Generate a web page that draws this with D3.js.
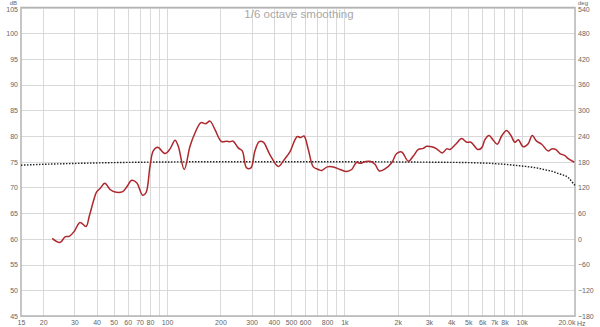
<!DOCTYPE html>
<html>
<head>
<meta charset="utf-8">
<script src="https://cdn.jsdelivr.net/npm/d3@7"></script>
<style>
body { margin: 0; background: #fff; }
svg { display: block; font-family: "Liberation Sans", Arial, sans-serif; }
</style>
</head>
<body>
<script>
// measured response, 1/6 octave smoothing
var freq = [22.5, 24.9, 26.6, 28.1, 30, 32.3, 34.9, 36.4, 38.7, 40,
    41.9, 44.6, 47.7, 50.9, 56.2, 59.2, 63.2, 67.4, 72.8, 76.1,
    80.1, 83.6, 88.5, 97.4, 103.9, 110.9, 115.7, 125, 134.7, 143.7,
    155.4, 165, 174.6, 186, 203, 217, 226, 236, 252, 265.6,
    281, 297, 313, 331, 349, 380, 424, 458, 493, 527,
    543, 567, 592, 626, 668, 713, 745, 801, 866, 945,
    1030, 1100, 1173, 1226, 1307, 1394, 1488, 1573, 1695, 1850,
    1973, 2105, 2294, 2448, 2613, 2787, 2910, 3108, 3317, 3565,
    3777, 3942, 4245, 4589, 4899, 5178, 5650, 5950, 6210, 6540,
    6918, 7287, 7711, 8223, 8700, 9165, 9570, 10215, 10890, 11475,
    12150, 12975, 14130, 14760, 15555, 16440, 17550, 18330, 19815];
var spl = [60.1, 59.3, 60.4, 60.5, 61.5, 63.2, 62.4, 64.4, 67.7, 69.1,
    69.8, 70.8, 69.6, 69.1, 69.2, 70.1, 71.4, 70.9, 68.5, 69.0,
    74.1, 77.1, 77.8, 76.6, 77.5, 79.2, 78.0, 73.5, 78.0, 80.6,
    82.6, 82.4, 82.9, 81.3, 78.9, 79.0, 78.9, 79.0, 77.7, 77.1,
    73.8, 73.8, 77.1, 78.9, 78.8, 76.4, 74.1, 75.4, 76.9, 79.3,
    79.9, 79.7, 80.0, 77.4, 74.0, 73.5, 73.3, 74.0, 74.0, 73.5,
    73.1, 73.5, 74.9, 74.7, 75.0, 75.1, 74.5, 73.2, 73.6, 74.8,
    76.6, 76.9, 75.1, 76.1, 77.4, 77.6, 78.0, 77.9, 77.5, 76.7,
    77.5, 77.4, 78.4, 79.5, 78.8, 78.8, 77.4, 77.7, 79.3, 80.1,
    79.2, 78.4, 80.0, 81.1, 80.1, 78.8, 79.3, 77.9, 78.5, 80.1,
    79.0, 78.4, 77.1, 77.5, 77.4, 76.6, 76.2, 75.6, 74.9];

// phase (dotted)
var phaseFreq = [15, 20, 30, 50, 100, 200, 1000, 3000, 5000, 8000, 10000, 12000, 14000, 14760, 16000, 16850, 18330, 19500, 20000];
var phaseDeg = [172, 174, 176, 178, 179.5, 180, 180, 179, 178, 174, 170, 166, 160, 158, 153, 150, 143, 130, 125];

var dbTicks = [45, 50, 55, 60, 65, 70, 75, 80, 85, 90, 95, 100, 105];
var degTicks = [-180, -120, -60, 0, 60, 120, 180, 240, 300, 360, 420, 480, 540];
var hzTicks = [15, 20, 30, 40, 50, 60, 70, 80, 100, 200, 300, 400, 500, 600, 800, 1000, 2000, 3000, 4000, 5000, 6000, 7000, 8000, 10000, 20000];
var hzLabels = ["15", "20", "30", "40", "50", "60", "70", "80", "100", "200", "300", "400", "500", "600", "800", "1k", "2k", "3k", "4k", "5k", "6k", "7k", "8k", "10k", "20.0k"];
var hzGrid = [20, 30, 40, 50, 60, 70, 80, 90, 100, 200, 300, 400, 500, 600, 700, 800, 900,
    1000, 2000, 3000, 4000, 5000, 6000, 7000, 8000, 9000, 10000];

var W = 600, H = 327;
var pLeft = 21, pRight = 575, pTop = 7.5, pBottom = 316;

var svg = d3.select("body").append("svg")
    .attr("width", W)
    .attr("height", H);

var x = d3.scaleLog().domain([15, 20000]).range([pLeft, pRight]);
var y = d3.scaleLinear().domain([45, 105]).range([pBottom, pTop]);
var yDeg = d3.scaleLinear().domain([-180, 540]).range([pBottom, pTop]);

// grid
svg.append("g").selectAll("line")
    .data(dbTicks)
    .enter().append("line")
    .attr("x1", pLeft).attr("x2", pRight)
    .attr("y1", function(d) { return Math.round(y(d)) + 0.5; })
    .attr("y2", function(d) { return Math.round(y(d)) + 0.5; })
    .attr("stroke", "#d9d9d9");

svg.append("g").selectAll("line")
    .data(hzGrid)
    .enter().append("line")
    .attr("x1", function(d) { return Math.round(x(d)) + 0.5; })
    .attr("x2", function(d) { return Math.round(x(d)) + 0.5; })
    .attr("y1", pTop).attr("y2", pBottom)
    .attr("stroke", "#d9d9d9");

// frame
svg.append("rect")
    .attr("x", pLeft)
    .attr("y", pTop)
    .attr("width", pRight - pLeft)
    .attr("height", pBottom - pTop)
    .attr("fill", "none")
    .attr("stroke", "#b4b4b4")
    .attr("stroke-width", 1.5);

// title
svg.append("text")
    .attr("x", 299)
    .attr("y", 18)
    .attr("text-anchor", "middle")
    .attr("font-size", "11.5px")
    .style("fill", "#a8a8a8")
    .text("1/6 octave smoothing");

// left axis
var yAxis = d3.axisLeft(y).tickValues(dbTicks).tickSize(0).tickPadding(3);
svg.append("g")
    .attr("transform", "translate(" + pLeft + ",0)")
    .call(yAxis)
    .call(function(g) { g.select(".domain").remove(); })
    .selectAll("text")
    .attr("font-size", "7px")
    .attr("fill", "#666")
    .attr("dy", function(d) { return d == 105 ? "0.55em" : "0.32em"; });

svg.append("text")
    .attr("x", 17).attr("y", 4.5)
    .attr("text-anchor", "end")
    .attr("font-size", "6px")
    .style("fill", "#666")
    .text("dB");

// right axis
var degAxis = d3.axisRight(yDeg).tickValues(degTicks).tickSize(0).tickPadding(3);
svg.append("g")
    .attr("transform", "translate(" + pRight + ",0)")
    .call(degAxis)
    .call(function(g) { g.select(".domain").remove(); })
    .selectAll("text")
    .attr("font-size", "7px")
    .attr("fill", "#666")
    .attr("dy", function(d) { return d == 540 ? "0.55em" : "0.32em"; });

svg.append("text")
    .attr("x", 578).attr("y", 4.5)
    .attr("font-size", "6px")
    .style("fill", "#666")
    .text("deg");

// bottom axis
var xAxis = d3.axisBottom(x).tickValues(hzTicks).tickSize(0).tickPadding(4)
    .tickFormat(function(d, i) { return hzLabels[i]; });
svg.append("g")
    .attr("transform", "translate(0," + pBottom + ")")
    .call(xAxis)
    .call(function(g) { g.select(".domain").remove(); })
    .selectAll("text")
    .attr("font-size", "7px")
    .attr("fill", "#666")
    .attr("text-anchor", function(d) { return d == 20000 ? "end" : "middle"; });

svg.append("text")
    .attr("x", 577).attr("y", 326)
    .attr("font-size", "7px")
    .style("fill", "#666")
    .text("Hz");

// phase
var phaseLine = d3.line()
    .x(function(d, i) { return x(phaseFreq[i]); })
    .y(function(d) { return yDeg(d); })
    .curve(d3.curveMonotoneX);

svg.append("path")
    .attr("d", phaseLine(phaseDeg))
    .attr("fill", "none")
    .attr("stroke", "#222")
    .attr("stroke-width", 1.4)
    .attr("stroke-dasharray", "1.5,1.5");

// spl
var splLine = d3.line()
    .x(function(d, i) { return x(freq[i]); })
    .y(function(d) { return y(d); })
    .curve(d3.curveCatmullRom.alpha(0.5));

svg.append("path")
    .attr("d", splLine(spl))
    .attr("fill", "none")
    .attr("stroke", "#ad282d")
    .attr("stroke-width", 1.5)
    .attr("stroke-linejoin", "round");
</script>
</body>
</html>
